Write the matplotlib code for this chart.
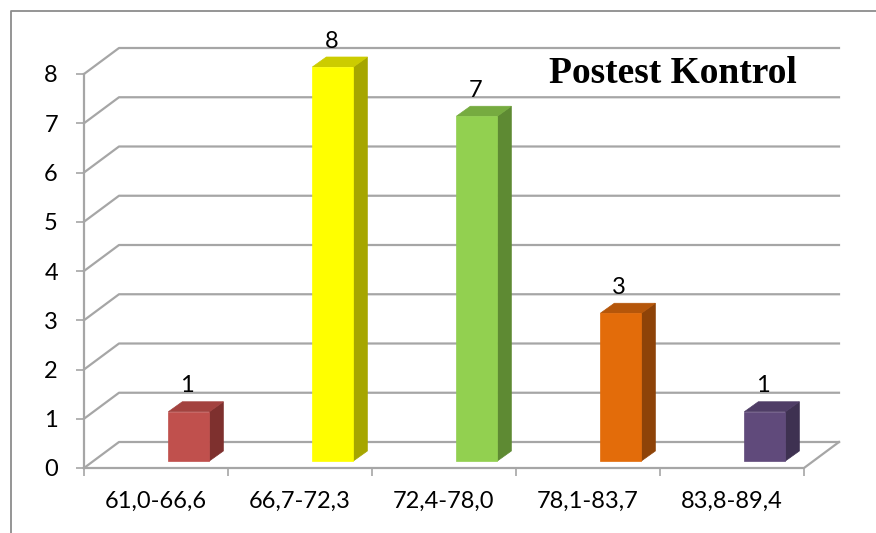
import matplotlib
matplotlib.use("Agg")
import matplotlib.pyplot as plt
from matplotlib.patches import Polygon
from matplotlib.lines import Line2D
from matplotlib.transforms import IdentityTransform
import numpy as np

categories = ["61,0-66,6", "66,7-72,3", "72,4-78,0", "78,1-83,7", "83,8-89,4"]
values = [1, 8, 7, 3, 1]
y_ticks = [0, 1, 2, 3, 4, 5, 6, 7, 8]
title = "Postest Kontrol"

front_colors = ["#C0504D", "#FFFF00", "#92D050", "#E36C0A", "#604A7B"]
top_colors = ["#A3423F", "#CCCC00", "#76AB40", "#B5560A", "#4F3D66"]
side_colors = ["#7E302E", "#A6A600", "#5E8A33", "#8E4308", "#3E3151"]

W, H = 876, 533
fig = plt.figure(figsize=(W / 100, H / 100), dpi=100)
fig.patch.set_facecolor("white")

# plot area (front face of the 3D box)
ax = fig.add_axes([84 / W, (H - 468) / H, 720 / W, 394 / H])
ax.set_xlim(0, len(categories))
ax.set_ylim(0, 8)
for s in ax.spines.values():
    s.set_visible(False)
ax.patch.set_visible(False)

grid_col = "#A6A6A6"
WALL = np.array([35.0, 26.0])   # depth vector of walls (px)
BAR_D = np.array([14.0, 10.0])  # depth of bars (px)
BAR_SHIFT = np.array([0.0, 7.0])

fig.canvas.draw()
T = ax.transData
ID = IdentityTransform()


def P(x, y, d=(0.0, 0.0)):
    p = T.transform((x, y))
    return (p[0] + d[0], p[1] + d[1])


# back-wall gridlines with perspective connectors
n = len(categories)
for v in y_ticks:
    pts = [P(0, v), P(0, v, WALL), P(n, v, WALL)]
    xs, ys = zip(*pts)
    fig.add_artist(Line2D(xs, ys, transform=ID, color=grid_col, lw=1.6, zorder=1))
# floor front and right edges
pts = [P(0, 0), P(n, 0), P(n, 0, WALL)]
xs, ys = zip(*pts)
fig.add_artist(Line2D(xs, ys, transform=ID, color=grid_col, lw=1.6, zorder=1))
# front vertical axis
pts = [P(0, 0), P(0, 8)]
xs, ys = zip(*pts)
fig.add_artist(Line2D(xs, ys, transform=ID, color=grid_col, lw=1.6, zorder=1))

# ticks
ax.set_yticks(y_ticks)
ax.set_yticklabels([str(t) for t in y_ticks])
ax.set_xticks(np.arange(n + 1))
ax.set_xticklabels([])
ax.set_xticks(np.arange(n) + 0.5, minor=True)
ax.set_xticklabels(categories, minor=True)
ax.tick_params(axis="y", length=5.8, width=1.2, color=grid_col, pad=13,
               labelsize=17, left=True)
ax.tick_params(axis="x", which="major", length=5.8, width=1.2, color=grid_col)
ax.tick_params(axis="x", which="minor", length=0, pad=16.5, labelsize=17)
for lab in ax.get_xticklabels(minor=True) + ax.get_yticklabels():
    lab.set_fontfamily("Lato")

# bars
bw = 41 / 144.0
for i, (v, fc, tc, sc) in enumerate(zip(values, front_colors, top_colors, side_colors)):
    cx = i + 0.728
    xl, xr = cx - bw / 2, cx + bw / 2
    fl = P(xl, 0, BAR_SHIFT)
    fr = P(xr, 0, BAR_SHIFT)
    tl = P(xl, v, BAR_SHIFT)
    tr = P(xr, v, BAR_SHIFT)
    front = [fl, fr, tr, tl]
    top = [tl, tr, (tr[0] + BAR_D[0], tr[1] + BAR_D[1]), (tl[0] + BAR_D[0], tl[1] + BAR_D[1])]
    side = [fr, (fr[0] + BAR_D[0], fr[1] + BAR_D[1]), (tr[0] + BAR_D[0], tr[1] + BAR_D[1]), tr]
    for poly, col in ((side, sc), (top, tc), (front, fc)):
        fig.add_artist(Polygon(poly, closed=True, transform=ID, facecolor=col,
                               edgecolor=col, lw=0.5, zorder=3))
    lx, ly = P(cx, v, (-1.5, 33))
    fig.text(lx / W, ly / H, str(v), ha="center", va="center", fontsize=17,
             family="Lato", color="black", zorder=5)

# title
fig.text(673 / W, (H - 83) / H, title, ha="center", va="baseline",
         fontsize=27, fontweight="bold", family="Liberation Serif", color="black")

# chart frame (only top and left visible in the crop)
fig.add_artist(Line2D([11, 11, W + 5], [-5, H - 11, H - 11], transform=ID,
                      color="#8C8C8C", lw=1.3, zorder=0))

fig.savefig("out.png", dpi=100, facecolor="white")
